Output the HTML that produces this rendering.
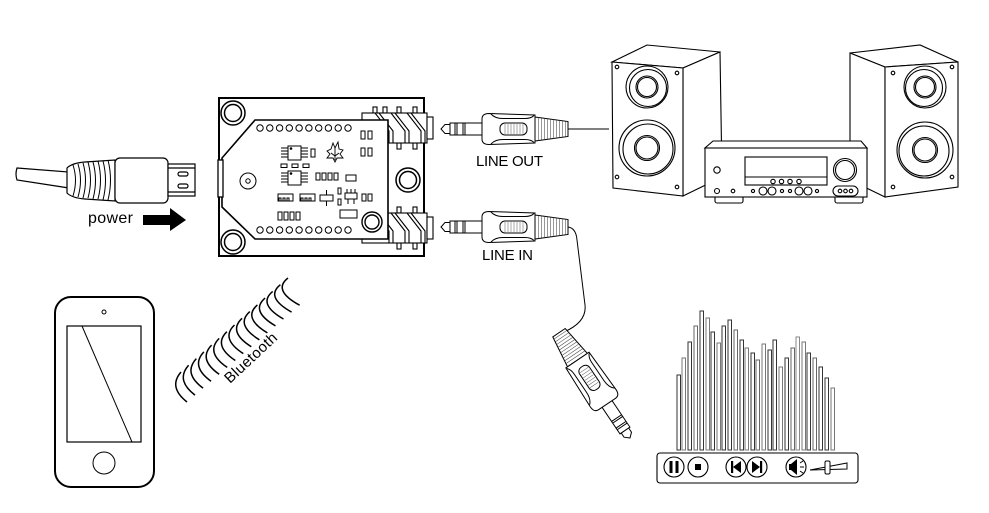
<!DOCTYPE html>
<html>
<head>
<meta charset="utf-8">
<style>
html,body{margin:0;padding:0;background:#fff;}
svg{display:block;}
text{font-family:"Liberation Sans",sans-serif;fill:#000;}
</style>
</head>
<body>
<svg width="989" height="513" viewBox="0 0 989 513" xmlns="http://www.w3.org/2000/svg">
<defs>
  <g id="plug" stroke="#000" stroke-width="1" fill="#fff">
    <rect x="9" y="-6" width="33" height="12"/>
    <path d="M0,0 L4,-4.5 L9,-4.5 L9,4.5 L4,4.5 Z"/>
    <line x1="14" y1="-6" x2="14" y2="6"/>
    <line x1="16" y1="-6" x2="16" y2="6"/>
    <line x1="22" y1="-6" x2="22" y2="6"/>
    <line x1="24" y1="-6" x2="24" y2="6"/>
    <path d="M94,-12 L127,-7.5 L127,7.5 L94,12 Z"/>
    <g stroke-width="0.55" stroke="#444">
      <line x1="97.5" y1="-11.5" x2="97.5" y2="11.5"/>
      <line x1="100.5" y1="-11.1" x2="100.5" y2="11.1"/>
      <line x1="103.5" y1="-10.7" x2="103.5" y2="10.7"/>
      <line x1="106.5" y1="-10.3" x2="106.5" y2="10.3"/>
      <line x1="109.5" y1="-9.8" x2="109.5" y2="9.8"/>
      <line x1="112.5" y1="-9.4" x2="112.5" y2="9.4"/>
      <line x1="115.5" y1="-9" x2="115.5" y2="9"/>
      <line x1="118.5" y1="-8.6" x2="118.5" y2="8.6"/>
      <line x1="121.5" y1="-8.2" x2="121.5" y2="8.2"/>
      <line x1="124.5" y1="-7.8" x2="124.5" y2="7.8"/>
    </g>
    <path d="M41,-10 Q41,-15.5 48,-15.5 L94,-14 L94,14 L48,15.5 Q41,15.5 41,10 Z"/>
    <path d="M50,-15 Q54,-10.5 62,-10.5 L84,-10.5 Q90,-10.5 93,-13.5" fill="none"/>
    <path d="M50,15 Q54,10.5 62,10.5 L84,10.5 Q90,10.5 93,13.5" fill="none"/>
    <rect x="59" y="-6" width="27" height="12" rx="5"/>
    <g stroke-width="0.5" stroke="#555">
      <line x1="64" y1="-5" x2="64" y2="5"/><line x1="67" y1="-5" x2="67" y2="5"/>
      <line x1="70" y1="-5" x2="70" y2="5"/><line x1="73" y1="-5" x2="73" y2="5"/>
      <line x1="76" y1="-5" x2="76" y2="5"/><line x1="79" y1="-5" x2="79" y2="5"/>
      <line x1="82" y1="-5" x2="82" y2="5"/>
    </g>
  </g>
  <g id="jack" stroke="#000" stroke-width="1.1" fill="#fff">
    <rect x="11" y="-6" width="4" height="6"/>
    <rect x="21" y="-6" width="4" height="6"/>
    <rect x="35" y="-6" width="4" height="6"/>
    <rect x="51" y="-6" width="4" height="6"/>
    <rect x="35" y="30" width="4" height="6"/>
    <rect x="51" y="30" width="4" height="6"/>
    <rect x="0" y="0" width="65" height="30"/>
    <rect x="65" y="4" width="6" height="22"/>
    <path d="M13,0 L27,18 L27,30 M17,0 L31,18 L31,30" fill="none"/>
    <path d="M29,0 L43,18 L43,30 M33,0 L47,18 L47,30" fill="none"/>
    <path d="M45,0 L59,18 L59,30 M49,0 L63,18 L63,30" fill="none"/>
  </g>
</defs>

<!-- USB CABLE -->
<g stroke="#000" stroke-width="1.2" fill="#fff">
  <path d="M17,168 L69,172 L69,188 L17,180 Q15,174 17,168 Z"/>
  <path d="M67,168 Q72,163 85,162 L115,160 L115,201 L85,199 Q72,198 67,193 Z"/>
  <g fill="none" stroke-width="1">
    <path d="M73,165 Q78,180 73,196"/>
    <path d="M78,164 Q83,180 78,197"/>
    <path d="M83,163 Q88,180 83,198"/>
    <path d="M88,162 Q93,180 88,198"/>
    <path d="M93,162 Q98,180 93,199"/>
    <path d="M98,161 Q103,180 98,199"/>
    <path d="M103,161 Q108,180 103,200"/>
    <path d="M108,160 Q113,180 108,200"/>
  </g>
  <rect x="115" y="158" width="53" height="45" rx="5"/>
  <rect x="168" y="164" width="27" height="32"/>
  <line x1="168" y1="168" x2="195" y2="168"/>
  <line x1="168" y1="192" x2="195" y2="192"/>
  <rect x="178" y="172" width="10" height="4" rx="2"/>
  <rect x="178" y="184" width="10" height="4" rx="2"/>
</g>
<text x="88" y="223" font-size="16" textLength="45">power</text>
<rect x="143" y="215" width="28" height="10" fill="#000"/>
<polygon points="170,208 186,220 170,231" fill="#000"/>

<!-- BOARD -->
<g stroke="#000" fill="#fff">
  <rect x="219" y="98" width="205" height="158" stroke-width="2"/>
  <circle cx="233" cy="113" r="12" stroke-width="1.5"/>
  <circle cx="233" cy="113" r="8.5" stroke-width="1.5"/>
  <circle cx="233" cy="242" r="12" stroke-width="1.5"/>
  <circle cx="233" cy="242" r="8.5" stroke-width="1.5"/>
  <circle cx="408" cy="180" r="12" stroke-width="1.5"/>
  <circle cx="408" cy="180" r="8.5" stroke-width="1.5"/>
</g>
<use href="#jack" x="362" y="113"/>
<use href="#jack" x="362" y="213"/>
<g stroke="#000" fill="#fff">
  <polygon points="255,120 388,120 388,239 255,239 222,207 222,158" stroke-width="1.6"/>
  <rect x="218" y="160" width="5" height="37" stroke-width="1.3"/>
  <circle cx="248" cy="181" r="8" stroke-width="1"/>
  <circle cx="248" cy="181" r="2.2" stroke-width="1"/>
  <circle cx="372" cy="222" r="10" stroke-width="1.4"/>
  <circle cx="372" cy="222" r="7" stroke-width="1.4"/>
  <g stroke-width="1">
    <circle cx="260" cy="128" r="3.2"/><circle cx="269.8" cy="128" r="3.2"/><circle cx="279.6" cy="128" r="3.2"/><circle cx="289.3" cy="128" r="3.2"/><circle cx="299.1" cy="128" r="3.2"/><circle cx="308.9" cy="128" r="3.2"/><circle cx="318.7" cy="128" r="3.2"/><circle cx="328.4" cy="128" r="3.2"/><circle cx="338.2" cy="128" r="3.2"/><circle cx="348" cy="128" r="3.2"/>
    <circle cx="260" cy="230" r="3.2"/><circle cx="269.8" cy="230" r="3.2"/><circle cx="279.6" cy="230" r="3.2"/><circle cx="289.3" cy="230" r="3.2"/><circle cx="299.1" cy="230" r="3.2"/><circle cx="308.9" cy="230" r="3.2"/><circle cx="318.7" cy="230" r="3.2"/><circle cx="328.4" cy="230" r="3.2"/><circle cx="338.2" cy="230" r="3.2"/><circle cx="348" cy="230" r="3.2"/>
  </g>
  <g stroke-width="1">
    <path d="M281,148 H288 M281,151 H288 M281,154 H288 M281,157 H288 M301,148 H308 M301,151 H308 M301,154 H308 M301,157 H308"/>
    <rect x="288" y="146" width="13" height="14"/>
    <circle cx="291" cy="148.5" r="0.8" fill="#000"/>
    <rect x="311" y="149" width="4" height="8"/>
    <rect x="281" y="164" width="6" height="3.5"/><rect x="292" y="164" width="6" height="3.5"/><rect x="303" y="164" width="6" height="3.5"/>
    <path d="M281,173 H288 M281,176 H288 M281,179 H288 M281,182 H288 M301,173 H308 M301,176 H308 M301,179 H308 M301,182 H308"/>
    <rect x="288" y="171" width="13" height="14"/>
    <circle cx="291" cy="173.5" r="0.8" fill="#000"/>
    <rect x="316" y="173" width="4" height="7"/><rect x="322" y="173" width="4" height="7"/><rect x="328" y="173" width="4" height="7"/><rect x="334" y="173" width="4" height="7"/>
    <rect x="346" y="175" width="10" height="6"/>
    <rect x="278" y="194" width="15" height="7"/>
    <path d="M279,201 v-3 h2 v3 M283,201 v-3 h2 v3 M287,201 v-3 h2 v3" fill="none"/>
    <rect x="300" y="194" width="15" height="7"/>
    <path d="M301,201 v-3 h2 v3 M305,201 v-3 h2 v3 M309,201 v-3 h2 v3" fill="none"/>
    <rect x="320" y="195" width="13" height="6"/>
    <line x1="326.5" y1="190" x2="326.5" y2="195"/><line x1="326.5" y1="201" x2="326.5" y2="206"/>
    <rect x="338" y="188" width="3" height="6"/><rect x="338" y="199" width="3" height="6"/>
    <rect x="345" y="193" width="12" height="6"/>
    <path d="M347,193 v-4 M351,193 v-4 M355,193 v-4 M348,199 v5 M354,199 v5" fill="none"/>
    <rect x="362" y="194" width="4" height="7"/><rect x="368" y="194" width="4" height="7"/>
    <rect x="278" y="212" width="4" height="8"/><rect x="284" y="212" width="4" height="8"/><rect x="290" y="212" width="4" height="8"/><rect x="296" y="212" width="4" height="8"/>
    <rect x="340" y="210" width="17" height="8"/>
    <rect x="361" y="131" width="4" height="8"/><rect x="368" y="131" width="4" height="8"/>
    <rect x="361" y="148" width="4" height="8"/><rect x="368" y="148" width="4" height="8"/>
  </g>
  <g stroke-width="0.9" fill="#fff">
    <path d="M327,151 L331,149 L333,143 L335,148 L338,142 L339,149 L343,150 L340,154 L343,158 L337,158 L335,162 L333,158 L327,158 L330,154 Z"/>
    <path d="M331,153 L335,156 L339,153 M335,148 L335,160" fill="none"/>
  </g>
</g>

<!-- PLUGS -->
<use href="#plug" transform="translate(441,129)"/>
<line x1="568" y1="129" x2="609" y2="129" stroke="#000" stroke-width="1"/>
<use href="#plug" transform="translate(441,227)"/>
<path d="M568,227 Q576,228 577,240 L585,305 Q587,322 564,332" fill="none" stroke="#000" stroke-width="1"/>
<use href="#plug" transform="translate(630,438) rotate(-124)"/>
<text x="476" y="166" font-size="15" textLength="67">LINE OUT</text>
<text x="482" y="260" font-size="15" textLength="51">LINE IN</text>

<!-- SPEAKERS -->
<g stroke="#000" stroke-width="1.1" fill="#fff">
  <polygon points="612,62 647,45 720,52 683,68"/>
  <polygon points="683,68 720,52 722,177 683,196"/>
  <polygon points="612,62 683,68 683,196 613,188"/>
  <circle cx="647" cy="87" r="21"/>
  <circle cx="648" cy="88" r="18.5"/>
  <circle cx="647" cy="87" r="11"/>
  <circle cx="647" cy="87" r="9.5"/>
  <circle cx="647" cy="148" r="28"/>
  <circle cx="648" cy="149" r="25"/>
  <circle cx="647" cy="148" r="12.5"/>
  <circle cx="647" cy="148" r="11"/>
  <circle cx="617" cy="67" r="1.8"/><circle cx="677" cy="73" r="1.8"/>
  <circle cx="617" cy="177" r="1.8"/><circle cx="677" cy="187" r="1.8"/>
  <polygon points="850,53 920,45 958,62 885,67"/>
  <polygon points="850,53 885,67 885,197 850,180"/>
  <polygon points="885,67 958,62 958,187 885,197"/>
  <circle cx="925" cy="87" r="21"/>
  <circle cx="924" cy="88" r="18.5"/>
  <circle cx="925" cy="87" r="11"/>
  <circle cx="925" cy="87" r="9.5"/>
  <circle cx="925" cy="150" r="28"/>
  <circle cx="924" cy="151" r="25"/>
  <circle cx="925" cy="150" r="12.5"/>
  <circle cx="925" cy="150" r="11"/>
  <circle cx="893" cy="73" r="1.8"/><circle cx="952" cy="67" r="1.8"/>
  <circle cx="893" cy="187" r="1.8"/><circle cx="952" cy="177" r="1.8"/>
</g>

<!-- RECEIVER -->
<g stroke="#000" stroke-width="1.1" fill="#fff">
  <rect x="715" y="195" width="28" height="8" rx="2"/>
  <rect x="835" y="195" width="28" height="8" rx="2"/>
  <polygon points="713,141 861,141 867,148 705,148"/>
  <rect x="705" y="148" width="162" height="49"/>
  <rect x="745" y="157" width="82" height="28"/>
  <line x1="745" y1="177" x2="827" y2="177"/>
  <circle cx="773" cy="181.5" r="2.2"/><circle cx="781.5" cy="181.5" r="2.2"/><circle cx="790" cy="181.5" r="2.2"/><circle cx="799" cy="181.5" r="2.2"/>
  <circle cx="845" cy="170" r="11.5"/>
  <circle cx="845" cy="170" r="9.5"/>
  <circle cx="717" cy="170" r="3.2"/>
  <circle cx="717" cy="191" r="2.5"/>
  <circle cx="733" cy="191" r="1.8"/>
  <circle cx="753" cy="191" r="1.6"/>
  <circle cx="763" cy="191" r="4"/>
  <circle cx="772" cy="191" r="4"/>
  <circle cx="782" cy="191" r="1.6"/>
  <circle cx="790" cy="191" r="1.6"/>
  <circle cx="799" cy="191" r="4"/>
  <circle cx="808" cy="191" r="4"/>
  <circle cx="817" cy="191" r="1.6"/>
  <rect x="833" y="186" width="25" height="10" rx="5"/>
  <circle cx="840" cy="191" r="1.8"/><circle cx="845.5" cy="191" r="1.8"/><circle cx="851" cy="191" r="1.8"/>
</g>

<!-- PHONE -->
<g stroke="#000" fill="none">
  <rect x="55" y="297" width="99" height="190" rx="16" stroke-width="2"/>
  <rect x="67" y="326" width="74" height="116" stroke-width="1.2"/>
  <line x1="82" y1="326" x2="132" y2="442" stroke-width="1"/>
  <circle cx="104" cy="312" r="2" stroke-width="1"/>
  <circle cx="104" cy="463" r="11" stroke-width="1"/>
</g>

<!-- BLUETOOTH -->
<g stroke="#000" stroke-width="1.5" fill="none">
  <path d="M181,372 q-13,15 6,30"/>
  <path d="M188.6,365.3 q-13.2,14.8 6.4,29.8"/>
  <path d="M196.3,358.6 q-13.4,14.6 6.8,29.6"/>
  <path d="M203.9,351.9 q-13.6,14.4 7.2,29.4"/>
  <path d="M211.6,345.1 q-13.8,14.2 7.6,29.2"/>
  <path d="M219.2,338.4 q-14,14 8,29"/>
  <path d="M226.9,331.7 q-14.2,13.8 8.4,28.8"/>
  <path d="M234.5,325 q-14.4,13.6 8.8,28.6"/>
  <path d="M242.1,318.3 q-14.6,13.4 9.2,28.4"/>
  <path d="M249.8,311.6 q-14.8,13.2 9.6,28.2"/>
  <path d="M257.4,304.9 q-15,13 10,28"/>
  <path d="M265.1,298.1 q-15.2,12.8 10.4,27.8"/>
  <path d="M272.7,291.4 q-15.4,12.6 10.8,27.6"/>
  <path d="M280.4,284.7 q-15.6,12.4 11.2,27.4"/>
  <path d="M288,278 q-15.8,12.2 11.6,27.2"/>
</g>
<text transform="translate(230,384) rotate(-43)" font-size="15" textLength="66">Bluetooth</text>

<!-- EQUALIZER -->
<g stroke="#333" stroke-width="1" fill="#fff">
  <rect x="677" y="375" width="3.5" height="75"/>
  <rect x="682" y="358" width="3.5" height="92" stroke="#777"/>
  <rect x="688" y="342" width="3.5" height="108"/>
  <rect x="694" y="326" width="3.5" height="124" stroke="#666"/>
  <rect x="700" y="311" width="3.5" height="139"/>
  <rect x="706" y="318" width="3.5" height="132" stroke="#777"/>
  <rect x="711" y="332" width="3.5" height="118"/>
  <rect x="717" y="343" width="3.5" height="107" stroke="#777"/>
  <rect x="722" y="326" width="3.5" height="124"/>
  <rect x="728" y="320" width="3.5" height="130"/>
  <rect x="734" y="330" width="3.5" height="120" stroke="#666"/>
  <rect x="740" y="340" width="3.5" height="110"/>
  <rect x="745" y="348" width="3.5" height="102" stroke="#777"/>
  <rect x="751" y="353" width="3.5" height="97"/>
  <rect x="756" y="360" width="3.5" height="90" stroke="#666"/>
  <rect x="762" y="344" width="3.5" height="106" stroke="#777"/>
  <rect x="768" y="350" width="3.5" height="100"/>
  <rect x="773" y="340" width="3.5" height="110"/>
  <rect x="779" y="367" width="3.5" height="83" stroke="#777"/>
  <rect x="785" y="358" width="3.5" height="92"/>
  <rect x="791" y="348" width="3.5" height="102" stroke="#666"/>
  <rect x="796" y="337" width="3.5" height="113" stroke="#888"/>
  <rect x="802" y="342" width="3.5" height="108" stroke="#777"/>
  <rect x="807" y="353" width="3.5" height="97"/>
  <rect x="813" y="358" width="3.5" height="92" stroke="#666"/>
  <rect x="819" y="367" width="3.5" height="83"/>
  <rect x="825" y="378" width="3.5" height="72"/>
  <rect x="831" y="388" width="3.5" height="62" stroke="#777"/>
</g>
<g stroke="#000" stroke-width="1.1" fill="#fff">
  <rect x="657" y="453" width="201" height="30" rx="3"/>
  <circle cx="674" cy="467" r="10"/>
  <circle cx="698" cy="467" r="10"/>
  <circle cx="736" cy="467" r="10"/>
  <circle cx="757" cy="467" r="10"/>
  <circle cx="796" cy="467" r="10"/>
</g>
<g fill="#000">
  <rect x="669.5" y="461" width="3" height="12"/>
  <rect x="675.5" y="461" width="3" height="12"/>
  <rect x="695" y="464" width="6" height="6"/>
  <rect x="731" y="461" width="2.2" height="12"/>
  <polygon points="733,467 741,461 741,473"/>
  <polygon points="752,461 760,467 752,473"/>
  <rect x="760" y="461" width="2.2" height="12"/>
  <rect x="789" y="464" width="3" height="6"/>
  <polygon points="791,464 797,459 797,475 791,470"/>
</g>
<g stroke="#000" stroke-width="1" fill="#fff">
  <path d="M800,463 L803,461 M800,467 H804 M800,471 L803,473" fill="none"/>
  <polygon points="810,470 847,463 847,469"/>
  <rect x="825" y="461" width="5" height="13" rx="1.5"/>
</g>
</svg>
</body>
</html>
